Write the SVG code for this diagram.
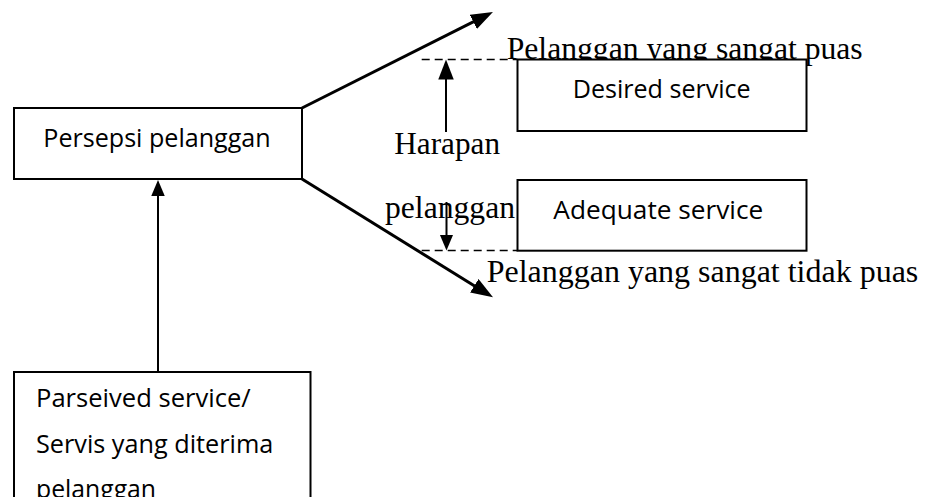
<svg xmlns="http://www.w3.org/2000/svg" width="926" height="497" viewBox="0 0 926 497">
  <style>
    .box { fill: #ffffff; stroke: #000000; stroke-width: 2; }
    .sans { font-family: "Open Sans", "Noto Sans", Lato, sans-serif; font-size: 26px; fill: #000000; }
    .serif { font-family: "Liberation Serif", "Times New Roman", serif; font-size: 32px; fill: #000000; }
    .wire { stroke: #000000; fill: none; }
    .thick { stroke-width: 3; }
    .thin { stroke-width: 2; }
    .dash { stroke: #000000; stroke-width: 1.3; stroke-dasharray: 8 5; fill: none; }
  </style>
  <defs>
    <marker id="headBig" markerUnits="userSpaceOnUse" markerWidth="24" markerHeight="18" refX="16" refY="8" orient="auto">
      <path d="M0,0 L22,8 L0,16 z" fill="#000000"/>
    </marker>
    <marker id="headMid" markerUnits="userSpaceOnUse" markerWidth="22" markerHeight="17" refX="16" refY="7.75" orient="auto">
      <path d="M0,0 L20,7.75 L0,15.5 z" fill="#000000"/>
    </marker>
    <marker id="headSmall" markerUnits="userSpaceOnUse" markerWidth="18" markerHeight="15" refX="12" refY="6.75" orient="auto">
      <path d="M0,0 L16,6.75 L0,13.5 z" fill="#000000"/>
    </marker>
  </defs>

  <!-- free labels on the expectation scale (drawn first so boxes sit over them) -->
  <g id="labels">
    <text class="serif" x="506.7" y="58.5" textLength="356" lengthAdjust="spacingAndGlyphs">Pelanggan yang sangat puas</text>
    <text class="serif" x="394.3" y="154" textLength="105.7" lengthAdjust="spacingAndGlyphs">Harapan</text>
    <text class="serif" x="385" y="218.3" textLength="130" lengthAdjust="spacingAndGlyphs">pelanggan</text>
    <text class="serif" x="486.7" y="281.7" textLength="431.6" lengthAdjust="spacingAndGlyphs">Pelanggan yang sangat tidak puas</text>
  </g>

  <g id="persepsi">
    <rect class="box" x="14" y="108" width="288" height="71"/>
    <text class="sans" x="43.3" y="146.7" textLength="227.4" lengthAdjust="spacingAndGlyphs">Persepsi pelanggan</text>
  </g>

  <g id="desired">
    <rect class="box" x="517.5" y="59.5" width="289" height="71.5"/>
    <text class="sans" x="572.7" y="97.7" textLength="178" lengthAdjust="spacingAndGlyphs">Desired service</text>
  </g>

  <g id="adequate">
    <rect class="box" x="517.5" y="180" width="289" height="70.7"/>
    <text class="sans" x="553.3" y="219.3" textLength="210" lengthAdjust="spacingAndGlyphs">Adequate service</text>
  </g>

  <g id="perceived">
    <rect class="box" x="14" y="372" width="296.5" height="160"/>
    <text class="sans" x="36" y="407" textLength="214.7" lengthAdjust="spacingAndGlyphs">Parseived service/</text>
    <text class="sans" x="36" y="452.5" textLength="237.3" lengthAdjust="spacingAndGlyphs">Servis yang diterima</text>
    <text class="sans" x="36" y="498" textLength="120" lengthAdjust="spacingAndGlyphs">pelanggan</text>
  </g>

  <g id="connectors">
    <!-- zone boundaries -->
    <line class="dash" x1="421.7" y1="59.5" x2="517.5" y2="59.5"/>
    <line class="dash" x1="421.7" y1="250.5" x2="517.5" y2="250.5"/>
    <!-- fan-out from the perception box -->
    <line class="wire thick" x1="302" y1="108" x2="487.6" y2="14.7" marker-end="url(#headBig)"/>
    <line class="wire thick" x1="302" y1="179" x2="487.9" y2="294.2" marker-end="url(#headBig)"/>
    <!-- perceived service feeds perception -->
    <line class="wire thin" x1="158" y1="372" x2="158" y2="184" marker-end="url(#headSmall)"/>
    <!-- expectation range -->
    <line class="wire thin" x1="446" y1="132" x2="446" y2="63.5" marker-end="url(#headMid)"/>
    <line class="wire thin" x1="446.5" y1="202" x2="446.5" y2="246.5" marker-end="url(#headSmall)"/>
  </g>
</svg>
